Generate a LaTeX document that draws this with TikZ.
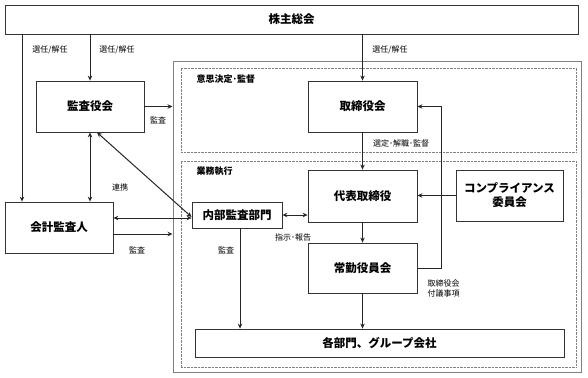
\documentclass[tikz,border=0pt]{standalone}
\usepackage{fontspec}
\setmainfont{Noto Sans CJK JP}
\usepackage{tikz}
\usetikzlibrary{arrows.meta,positioning,calc}

\begin{document}
\begin{tikzpicture}[x=1pt, y=-1pt,
  >={Stealth[length=5pt,width=4.5pt]},
  box/.style={draw=black!80, line width=0.8pt, fill=white, inner sep=0pt,
    font=\fontsize{11.5}{14}\selectfont\bfseries, align=center},
  lbl/.style={font=\fontsize{8}{10}\selectfont, align=left},
  area/.style={draw=gray, line width=0.7pt, dash pattern=on 0.7pt off 0.7pt, inner sep=0pt},
  arr/.style={->, line width=1pt, black!85}]
  \useasboundingbox (0,0) rectangle (588,377);
  % frames
  \node[draw=gray, line width=1pt, inner sep=0pt, minimum width=408pt, minimum height=310pt] (outer) at (377,217) {};
  \node[area, minimum width=395pt, minimum height=84pt] (decide) at (378.5,110) {};
  \node[area, minimum width=395pt, minimum height=206pt] (exec area) at (378.5,264) {};
  \node[font=\fontsize{9}{11}\selectfont\bfseries, anchor=west] (decide label) at (193,79) {意思決定･監督};
  \node[font=\fontsize{9}{11}\selectfont\bfseries, anchor=west] (exec label) at (193,171) {業務執行};
  % boxes
  \node[box, minimum width=573pt, minimum height=29pt] (agm) at (291.5,19.5) {株主総会};
  \node[box, minimum width=108pt, minimum height=51pt] (kansa) at (90,106.5) {監査役会};
  \node[box, minimum width=108pt, minimum height=51pt] (acct) at (59,227.5) {会計監査人};
  \node[box, minimum width=109pt, minimum height=51pt] (board) at (362.5,106.5) {取締役会};
  \node[box, minimum width=109pt, minimum height=52pt] (ceo) at (362.5,196) {代表取締役};
  \node[box, minimum width=107pt, minimum height=51pt] (comp) at (509.5,195.5) {コンプライアンス\\委員会};
  \node[box, minimum width=109pt, minimum height=50pt] (jokin) at (362.5,268) {常勤役員会};
  \node[box, minimum width=90pt, minimum height=26pt] (audit) at (237,215) {内部監査部門};
  \node[box, minimum width=369pt, minimum height=28pt] (depts) at (379.5,343) {各部門、グループ会社};
  \coordinate (left rail) at (22,0);
  % connectors
  \draw[arr] (agm.south -| left rail) -- (acct.north -| left rail);
  \draw[arr] (agm.south -| kansa) -- (kansa.north);
  \draw[arr, <->] (kansa.south) -- (kansa.south |- acct.north);
  \draw[arr] (kansa.east) -- (kansa.east -| outer.west);
  \draw[arr, <->] ([xshift=7pt]kansa.south) -- ([yshift=-2pt]audit.west);
  \draw[arr, <->] ([yshift=-3pt]audit.west -| acct.east) -- ([yshift=-3pt]audit.west);
  \draw[arr] ([yshift=-6.5pt]acct.east) -- ([yshift=-6.5pt]acct.east -| outer.west);
  \draw[arr] (agm.south -| board) -- (board.north);
  \draw[arr] (board) -- (ceo);
  \draw[arr] (comp.west) -- (ceo.east |- comp.west);
  \draw[arr, <->] (audit.east) -- (audit.east -| ceo.west);
  \draw[arr] (ceo) -- (jokin);
  \draw[arr] (jokin.east) -- ++(24,0) |- (board.east);
  \draw[arr] (jokin) -- (jokin.south |- depts.north);
  \draw[arr] ([xshift=3pt]audit.south) -- ([xshift=3pt]audit.south |- depts.north);
  % labels
  \node[lbl] (elect1) at (50,50) {選任/解任};
  \node[lbl] (elect2) at (117,50) {選任/解任};
  \node[lbl] (elect3) at (390,50) {選任/解任};
  \node[lbl] (kansa audit) at (158,120) {監査};
  \node[lbl] (renkei) at (120,187) {連携};
  \node[lbl] (acct audit) at (137,250) {監査};
  \node[lbl] (internal audit) at (226,250) {監査};
  \node[lbl] (report) at (293,237) {指示･報告};
  \node[lbl] (oversee) at (401,143) {選定･解職･監督};
  \node[lbl, anchor=west] (agenda) at (424,288) {取締役会\\付議事項};
\end{tikzpicture}
\end{document}
